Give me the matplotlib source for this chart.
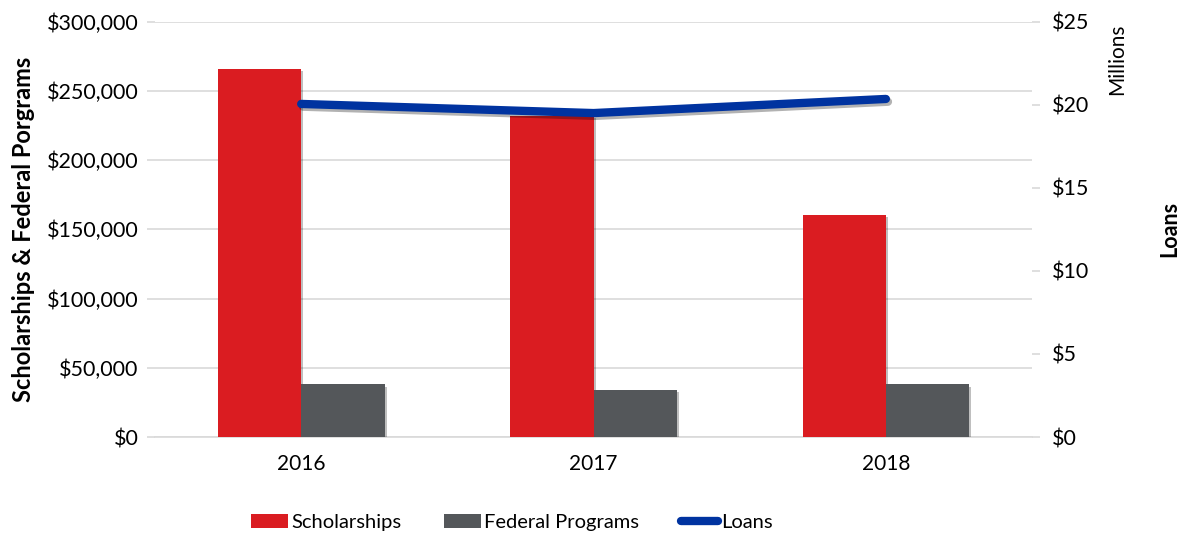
import matplotlib
matplotlib.use("Agg")
import matplotlib.pyplot as plt
import matplotlib.patheffects as pe
from matplotlib.patches import Patch
from matplotlib.lines import Line2D
from matplotlib.ticker import FuncFormatter, MultipleLocator
import numpy as np

YEARS = ["2016", "2017", "2018"]
SCHOLARSHIPS = [266000, 232000, 160500]
FEDERAL_PROGRAMS = [38000, 34000, 38000]
LOANS_MILLIONS = [20.05, 19.5, 20.35]

RED = "#DA1C21"
GREY = "#54575A"
BLUE = "#0033A0"
GRID = "#D9D9D9"
TEXT = "#000000"

plt.rcParams["font.family"] = ["Lato", "DejaVu Sans"]

fig = plt.figure(figsize=(11.86, 5.33), dpi=100)
ax = fig.add_axes([0.1307, 0.180, 0.7395, 0.7793])
ax2 = ax.twinx()

x = np.arange(len(YEARS))
width = 0.285
shadow = [pe.SimplePatchShadow(offset=(1.5, -1.5), alpha=0.25, shadow_rgbFace="black"), pe.Normal()]
ax.bar(x - width / 2, SCHOLARSHIPS, width, color=RED, zorder=3, path_effects=shadow)
ax.bar(x + width / 2, FEDERAL_PROGRAMS, width, color=GREY, zorder=3, path_effects=shadow)

ax2.plot(x, LOANS_MILLIONS, color=BLUE, linewidth=6, solid_capstyle="round", zorder=4,
         path_effects=[pe.SimpleLineShadow(offset=(1.5, -2), alpha=0.3), pe.Normal()])

ax.set_xlim(-0.5, 2.5)
ax.set_ylim(0, 300000)
ax2.set_ylim(0, 25)
ax.yaxis.set_major_locator(MultipleLocator(50000))
ax2.yaxis.set_major_locator(MultipleLocator(5))
ax.yaxis.set_major_formatter(FuncFormatter(lambda v, _: f"${v:,.0f}"))
ax2.yaxis.set_major_formatter(FuncFormatter(lambda v, _: f"${v:,.0f}"))
ax.set_xticks(x)
ax.set_xticklabels(YEARS)

ax.grid(axis="y", color=GRID, linewidth=1.2, zorder=0)
ax.set_axisbelow(True)
for a in (ax, ax2):
    for s in ("top", "left", "right"):
        a.spines[s].set_visible(False)
    a.spines["bottom"].set_color(GRID)
    a.spines["bottom"].set_linewidth(1.2)
ax2.spines["bottom"].set_visible(False)

ax.tick_params(axis="y", length=6, color=GRID, width=1.2, labelsize=15.5, pad=6, labelcolor=TEXT)
ax2.tick_params(axis="y", length=6, color=GRID, width=1.2, labelsize=15.5, pad=8, labelcolor=TEXT)
ax.tick_params(axis="x", length=0, labelsize=15, pad=12, labelcolor=TEXT)

ax.set_ylabel("Scholarships & Federal Porgrams", fontsize=17, fontweight="bold", labelpad=8)
fig.text(0.986, 0.57, "Loans", rotation=90, fontsize=15.5, fontweight="bold", ha="center", va="center")
fig.text(0.942, 0.955, "Millions", rotation=90, fontsize=15, ha="center", va="top")

handles = [
    Patch(facecolor=RED),
    Patch(facecolor=GREY),
    Line2D([0], [0], color=BLUE, linewidth=6, solid_capstyle="round"),
]
fig.legend(handles, ["Scholarships", "Federal Programs", "Loans"], loc="lower left",
           bbox_to_anchor=(0.203, -0.015), ncol=3, frameon=False, fontsize=14.5,
           borderpad=0, handlelength=1.85, handleheight=0.65, handletextpad=0.15,
           columnspacing=2.1)

fig.savefig("out.png", dpi=100)
